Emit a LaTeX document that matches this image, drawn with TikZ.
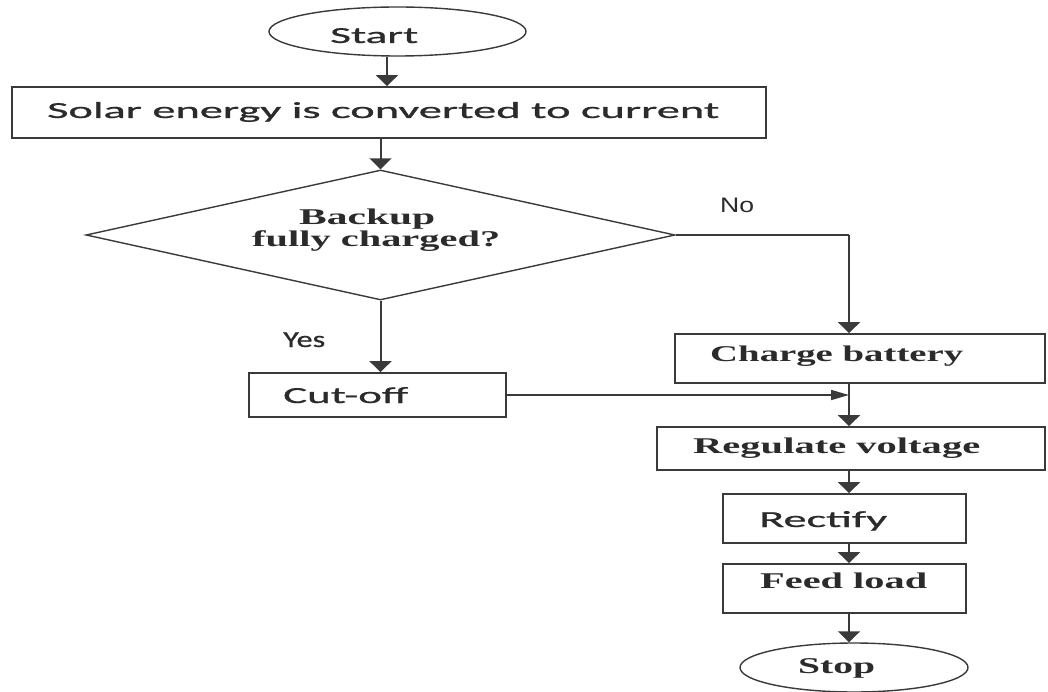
\documentclass[tikz,border=0pt]{standalone}
\usepackage{fontspec}
\usepackage{graphicx}
\usetikzlibrary{arrows.meta,shapes.geometric}
\newfontfamily\calfont{Carlito}[BoldFont={Carlito}, BoldFeatures={FakeBold=0.7}]
\newfontfamily\romfont{Liberation Serif}
\newfontfamily\arfont{Liberation Sans}
% text stretched to a given width, height kept
\newcommand\wtxt[2]{\resizebox{#1}{\height}{#2}}
\definecolor{ink}{HTML}{2B2B2B}
\definecolor{edge}{HTML}{3A3A3A}
\tikzset{
  stepbox/.style={draw=edge, line width=1.8pt, rectangle, inner sep=0pt},
  oval/.style={draw=edge, line width=1.4pt, ellipse, inner sep=0pt},
  decision/.style={draw=edge, line width=1.4pt, diamond, inner sep=0pt},
  lbl/.style={anchor=base west, inner sep=0pt, text=ink},
  sansl/.style={lbl, font=\calfont\bfseries\fontsize{23}{26}\selectfont},
  serifl/.style={lbl, font=\romfont\bfseries\fontsize{22.5}{26}\selectfont},
  arl/.style={lbl, font=\arfont\fontsize{21}{24}\selectfont},
  vflow/.style={draw=edge, line width=2pt, -{Triangle[width=22pt,length=11pt]}},
  hflow/.style={draw=edge, line width=1.6pt, -{Triangle[width=10pt,length=18pt]}},
  plain/.style={draw=edge, line width=1.6pt},
}
\begin{document}
\begin{tikzpicture}[x=1pt,y=-1pt]
\useasboundingbox[fill=white] (0,0) rectangle (1048,692);

% shapes
\node[oval, minimum width=257pt, minimum height=49pt] (start) at (397.5,31.5) {};
\node[stepbox, minimum width=754pt, minimum height=51pt] (solar) at (389,112.5) {};
\node[decision, minimum width=589pt, minimum height=130pt] (dec) at (380.5,235) {};
\node[stepbox, minimum width=257pt, minimum height=44pt] (cut) at (377.5,395) {};
\node[stepbox, minimum width=370pt, minimum height=49pt] (charge) at (860,358.5) {};
\node[stepbox, minimum width=388pt, minimum height=43pt] (reg) at (851,448.5) {};
\node[stepbox, minimum width=243pt, minimum height=49pt] (rect) at (844.5,518.5) {};
\node[stepbox, minimum width=243pt, minimum height=49pt] (feed) at (844.5,588.5) {};
\node[oval, minimum width=228pt, minimum height=49pt] (stop) at (854,667.5) {};

% labels
\node[sansl] (tstart) at (330,43) {\wtxt{88pt}{Start}};
\node[sansl] (tsolar) at (47,118) {\wtxt{672pt}{Solar energy is converted to current}};
\node[serifl] (tback) at (299,225) {\wtxt{136pt}{Backup}};
\node[serifl] (tfull) at (252,247) {\wtxt{248pt}{fully charged?}};
\node[arl] (tno) at (720,213) {\wtxt{34pt}{No}};
\node[sansl] (tyes) at (283,347) {\wtxt{42pt}{Yes}};
\node[sansl] (tcut) at (283,403) {\wtxt{125pt}{Cut-off}};
\node[serifl] (tcharge) at (710,361) {\wtxt{253pt}{Charge battery}};
\node[serifl] (treg) at (693,453) {\wtxt{287pt}{Regulate voltage}};
\node[sansl] (trect) at (759,527) {\wtxt{128pt}{Rectify}};
\node[serifl] (tfeed) at (760,588) {\wtxt{167pt}{Feed load}};
\node[serifl] (tstop) at (798,673) {\wtxt{77pt}{Stop}};

% the right-hand column of connectors
\coordinate (col) at (849,0);
\coordinate (bend) at (dec.east -| col);

% connectors
\draw[vflow] ([xshift=-10.5pt]start.south) -- ([xshift=-10.5pt]start.south |- solar.north);
\draw[vflow] (solar.south -| dec.north) -- (dec.north);
\draw[plain] (dec.east) -- (bend);
\draw[vflow] (bend) -- (charge.north -| col);
\draw[vflow] (dec.south) -- (dec.south |- cut.north);
\draw[hflow] (cut.east) -- (cut.east -| col);
\draw[vflow] (charge.south -| col) -- (reg.north -| col);
\draw[vflow] (reg.south -| col) -- (rect.north -| col);
\draw[vflow] (rect.south -| col) -- (feed.north -| col);
\draw[vflow] (feed.south -| col) -- (stop.north -| col);
\end{tikzpicture}
\end{document}
